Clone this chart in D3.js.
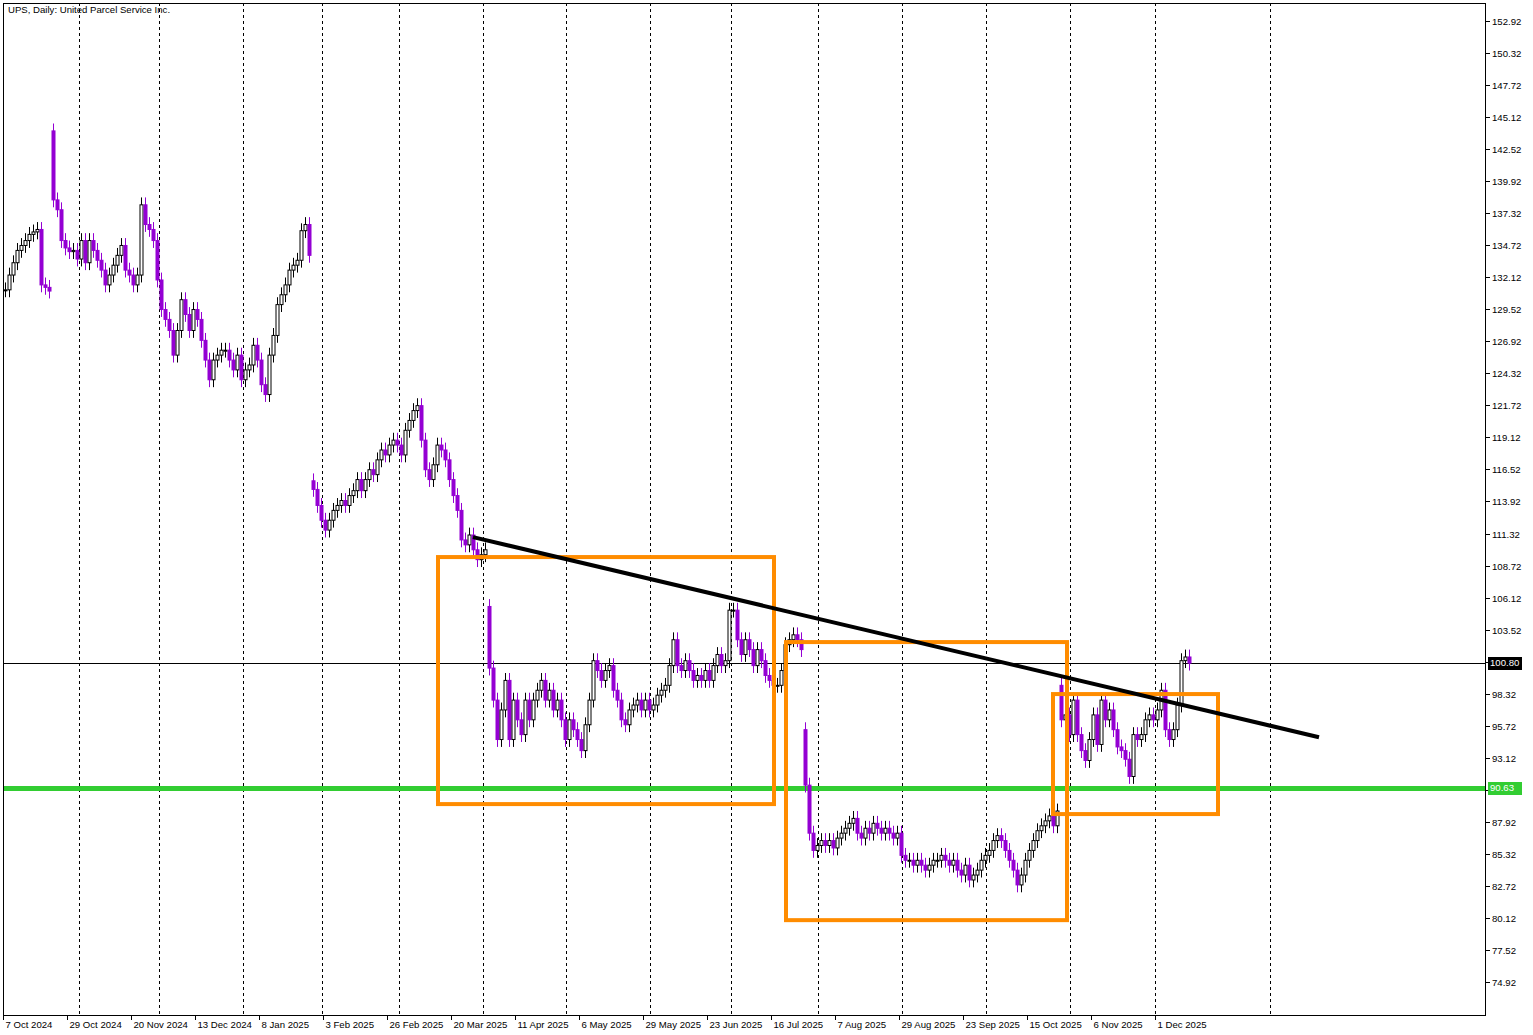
<!DOCTYPE html>
<html><head><meta charset="utf-8">
<script src="https://cdn.jsdelivr.net/npm/d3@7"></script>
<style>body{margin:0;background:#fff}svg{display:block}text{font-family:"Liberation Sans",Arial,sans-serif;font-size:9.6px}</style>
</head><body><svg id="c" width="1533" height="1035"></svg>
<script>
// daily bars: number = close (open = previous close); [open, close] = gap bar
const bars = [
131.1,132.3,133.3,134.3,134.7,135.1,135.6,135.8,136.0,131.5,131.3,131.0,
[144.0,138.4],
137.6,135.1,134.5,134.2,134.3,133.6,135.1,133.3,135.1,134.3,133.5,132.7,131.5,132.3,133.1,133.9,134.7,132.7,132.3,131.5,132.3,138.0,136.4,136.0,135.1,131.9,129.5,128.7,127.8,125.8,127.8,130.3,129.1,127.8,129.5,128.7,127.0,125.4,123.8,125.4,125.8,126.2,126.2,125.4,124.6,125.8,123.8,124.6,125.0,126.6,125.4,123.4,122.6,125.8,127.4,129.9,130.7,131.5,132.7,133.1,133.5,135.9,136.4,133.9,
[115.6,114.9],
113.6,112.4,111.6,112.4,113.2,113.6,114.0,113.6,114.4,114.8,115.7,114.8,115.7,116.5,116.1,117.3,118.1,117.7,118.5,118.9,118.5,117.7,119.7,120.5,121.3,121.7,118.9,116.5,115.7,116.9,118.5,118.1,117.3,115.7,114.4,113.2,110.8,110.4,111.2,110.0,109.2,109.6,110.0,
[105.4,100.4],
97.8,94.6,97.0,99.4,94.6,97.8,96.2,95.0,97.8,96.2,97.8,98.6,99.4,97.8,98.6,97.0,97.8,96.2,94.6,96.2,95.4,94.6,93.7,95.8,97.8,101.0,100.2,99.4,100.2,100.6,98.6,97.8,96.2,95.8,97.0,97.4,97.8,97.0,97.8,97.0,97.4,98.2,98.6,99.0,100.6,102.7,100.6,100.2,101.0,100.2,99.4,99.8,99.4,100.2,99.4,100.6,101.5,100.6,101.0,105.1,105.1,102.7,101.5,102.7,101.9,100.6,101.9,101.0,99.8,99.4,99.0,99.0,100.2,102.3,102.7,103.1,102.7,101.9,
[95.4,90.9],
87.0,85.6,86.0,86.4,86.0,86.4,85.8,86.6,87.0,87.4,87.8,88.2,87.0,86.6,87.4,87.0,87.8,87.4,87.0,87.4,87.0,86.6,87.0,85.2,84.8,84.8,84.4,84.8,84.4,84.0,84.4,84.8,84.8,85.2,84.8,84.4,84.8,84.0,83.6,84.4,83.2,83.6,84.0,84.8,85.2,85.6,86.4,86.8,86.4,85.6,84.8,84.0,82.8,83.6,84.8,85.6,86.4,87.2,87.6,88.0,88.4,87.6,88.8,
[99.0,96.2],
96.6,95.0,97.8,95.0,93.7,92.9,94.6,96.6,94.2,97.8,96.2,97.0,95.4,94.0,93.7,93.0,91.6,95.0,94.6,95.0,96.2,96.6,96.2,97.0,98.6,95.4,94.6,95.4,97.4,101.0,101.3,100.8
];
const wick = 0.6;
const yTicks = d3.range(0,31).map(i => +(74.92 + 2.6*i).toFixed(2));
const dateLabels = ["7 Oct 2024","29 Oct 2024","20 Nov 2024","13 Dec 2024","8 Jan 2025","3 Feb 2025","26 Feb 2025","20 Mar 2025","11 Apr 2025","6 May 2025","29 May 2025","23 Jun 2025","16 Jul 2025","7 Aug 2025","29 Aug 2025","23 Sep 2025","15 Oct 2025","6 Nov 2025","1 Dec 2025"];
const dateLabelIdx = dateLabels.map((d,i)=>i*16);
const gridIdx = [18.5,38.5,59.5,79.25,98.5,119.5,140.25,161.25,181.5,203.25,224.25,245.25,266.25,287.5,316.25];
const lastPrice = 100.80, support = 90.63;
const boxes = [[108.25,192.25,109.41,89.36],[195.25,265.5,102.51,79.94],[262,303.25,98.29,88.55]];
const trend = [[117,111.03],[328.5,94.79]];

const L=3,R=1485,T=3,B=1015;
const x = d3.scaleLinear().domain([0,1]).range([5,9]);
const y = d3.scaleLinear().domain([74.92,152.92]).range([982,21]);
const svg = d3.select("#c");
const g = svg.append("g");
g.append("clipPath").attr("id","pc").append("rect").attr("x",L).attr("y",T).attr("width",R-L).attr("height",B-T);
const plot = g.append("g").attr("clip-path","url(#pc)");

plot.selectAll(".vg").data(gridIdx).join("line").attr("x1",d=>Math.round(x(d))+.5).attr("x2",d=>Math.round(x(d))+.5)
 .attr("y1",T).attr("y2",B).attr("stroke","#000").attr("stroke-dasharray","3,3");

plot.append("line").attr("x1",L).attr("x2",R).attr("y1",Math.round(y(lastPrice))+.5).attr("y2",Math.round(y(lastPrice))+.5).attr("stroke","#000");
plot.append("line").attr("x1",L).attr("x2",R).attr("y1",y(support)).attr("y2",y(support)).attr("stroke","#32CD32").attr("stroke-width",5);

let prev = null;
const candles = bars.map(b => { let o,c; if(Array.isArray(b)){o=b[0];c=b[1];} else {o=prev==null?b:prev;c=b;} prev=c; return {o,c,h:Math.max(o,c)+wick,l:Math.min(o,c)-wick}; });
const cg = plot.selectAll(".cd").data(candles).join("g");
cg.append("line").attr("x1",(d,i)=>Math.round(x(i))+.5).attr("x2",(d,i)=>Math.round(x(i))+.5)
 .attr("y1",d=>y(d.h)).attr("y2",d=>y(d.l)).attr("stroke",d=>d.c>=d.o?"#000":"#9400D3");
cg.append("rect").attr("x",(d,i)=>Math.round(x(i))-1).attr("width",3)
 .attr("y",d=>y(Math.max(d.o,d.c))).attr("height",d=>Math.max(1,Math.abs(y(d.o)-y(d.c))))
 .attr("fill",d=>d.c>=d.o?"#fff":"#9400D3").attr("stroke",d=>d.c>=d.o?"#000":"#9400D3").attr("stroke-width",1);

plot.selectAll(".bx").data(boxes).join("rect").attr("x",d=>x(d[0])).attr("y",d=>y(d[2]))
 .attr("width",d=>x(d[1])-x(d[0])).attr("height",d=>y(d[3])-y(d[2]))
 .attr("fill","none").attr("stroke","#FF8C00").attr("stroke-width",4);
plot.append("line").attr("x1",x(trend[0][0])).attr("y1",y(trend[0][1])).attr("x2",x(trend[1][0])).attr("y2",y(trend[1][1]))
 .attr("stroke","#000").attr("stroke-width",4);

g.append("rect").attr("x",L+.5).attr("y",T+.5).attr("width",R-L).attr("height",B-T).attr("fill","none").attr("stroke","#000");

const ya = g.selectAll(".yt").data(yTicks).join("g").attr("transform",d=>`translate(${R},${Math.round(y(d))+.5})`);
ya.append("line").attr("x1",0).attr("x2",5).attr("stroke","#000");
ya.append("text").attr("x",7).attr("dy","0.35em").text(d=>d.toFixed(2));

function tag(v,bg){const yy=Math.round(y(v));
 g.append("rect").attr("x",R+3).attr("y",yy-6).attr("width",34).attr("height",13).attr("fill",bg);
 g.append("text").attr("x",R+5).attr("y",yy).attr("dy","0.35em").attr("fill","#fff").text(v.toFixed(2));}
tag(lastPrice,"#000"); tag(support,"#32CD32");

const xa = g.selectAll(".xt").data(dateLabelIdx).join("g").attr("transform",(d,i)=>`translate(${Math.round(x(d))-2+.5},${B})`);
xa.append("line").attr("y1",0).attr("y2",5).attr("stroke","#000");
xa.append("text").attr("x",2).attr("y",13).text((d,i)=>dateLabels[i]);

g.append("text").attr("x",8).attr("y",13).text("UPS, Daily:  United Parcel Service Inc.");
</script></body></html>
